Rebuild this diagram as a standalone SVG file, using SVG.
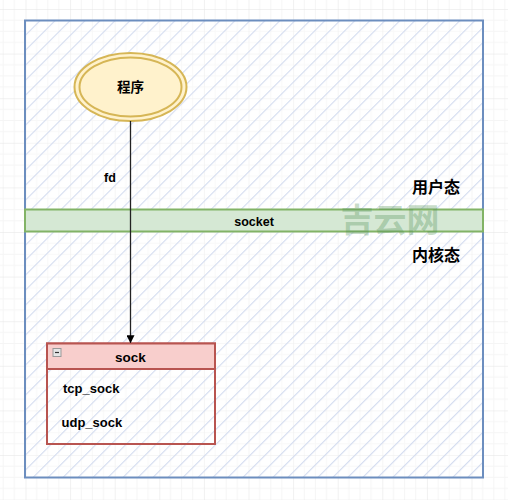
<svg xmlns="http://www.w3.org/2000/svg" width="508" height="500" viewBox="0 0 508 500">
<defs>
<style>
.lbl{font-family:"Liberation Sans","Noto Sans CJK SC",Arial,sans-serif;font-weight:bold;fill:#000;}
.cn{font-family:"Noto Sans CJK SC","Liberation Sans",sans-serif;font-weight:bold;fill:#000;}
</style>
<pattern id="grid" patternUnits="userSpaceOnUse" x="25.5" y="9" width="44.6" height="44.6">
<path d="M11.15 0V44.6M22.3 0V44.6M33.45 0V44.6M0 11.15H44.6M0 22.3H44.6M0 33.45H44.6" stroke="#f5f5f5" stroke-width="1" fill="none"/>
<path d="M0 0V44.6M0 0H44.6" stroke="#e4e4e4" stroke-width="1" fill="none"/>
</pattern>
<pattern id="hatch" patternUnits="userSpaceOnUse" width="10.6" height="10.6" patternTransform="rotate(45)">
<line x1="0" y1="0" x2="0" y2="10.6" stroke="#d2dbef" stroke-width="2.2"/>
</pattern>
<marker id="arrow" viewBox="0 0 10 10" refX="9" refY="5" markerWidth="8" markerHeight="8" orient="auto" markerUnits="userSpaceOnUse">
<path d="M0 0L10 5L0 10z" fill="#000"/>
</marker>
</defs>
<rect width="508" height="500" fill="#fff"/>
<rect width="508" height="500" fill="url(#grid)"/>
<g id="container">
<rect x="25" y="20.5" width="458" height="457" fill="#fff" fill-opacity="0.35"/>
<rect x="25" y="20.5" width="458" height="457" fill="url(#hatch)" stroke="#6c8ebf" stroke-width="2"/>
</g>
<g id="socket">
<rect x="25" y="209.5" width="458" height="22" fill="#d5e8d4" stroke="#82b366" stroke-width="2"/>
<text class="lbl" x="254" y="225.5" font-size="12.5" text-anchor="middle">socket</text>
</g>
<g id="user-label">
<text class="cn" x="436" y="193" font-size="16" text-anchor="middle">用户态</text>
</g>
<g id="kernel-label">
<text class="cn" x="436" y="261" font-size="16" text-anchor="middle">内核态</text>
</g>
<g id="program">
<ellipse cx="130.5" cy="87" rx="56" ry="34" fill="#fff2cc" stroke="#d6b656" stroke-width="2"/>
<ellipse cx="130.5" cy="87" rx="51" ry="29.5" fill="none" stroke="#d6b656" stroke-width="2"/>
<text class="cn" x="130.5" y="92" font-size="13.5" text-anchor="middle">程序</text>
</g>
<g id="sock">
<rect x="47" y="343.5" width="168" height="100.5" fill="none" stroke="#b85450" stroke-width="2"/>
<rect x="47" y="343.5" width="168" height="25.5" fill="#f8cecc" stroke="#b85450" stroke-width="2"/>
<rect x="53" y="348.5" width="8" height="8" fill="#e6e6e6" stroke="#999" stroke-width="1"/>
<line x1="55" y1="352.5" x2="59" y2="352.5" stroke="#333" stroke-width="1.2"/>
<text class="lbl" x="130.5" y="362" font-size="13.5" text-anchor="middle">sock</text>
<text class="lbl" x="63" y="393" font-size="13">tcp_sock</text>
<text class="lbl" x="61.5" y="427" font-size="13">udp_sock</text>
</g>
<g id="connectors">
<line x1="130.5" y1="121" x2="130.5" y2="342.5" stroke="#222" stroke-width="1.3" marker-end="url(#arrow)"/>
<text class="lbl" x="110" y="181.5" font-size="12.5" text-anchor="middle">fd</text>
</g>
<text x="390" y="232" font-family="Noto Sans CJK SC,sans-serif" font-weight="bold" font-size="33" fill="#4f8f55" fill-opacity="0.32" text-anchor="middle">吉云网</text>
</svg>
